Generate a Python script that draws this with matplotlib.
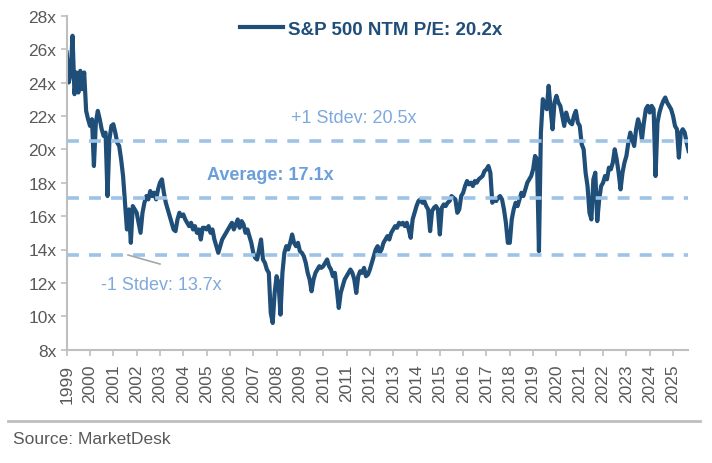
import numpy as np
import matplotlib
matplotlib.use("Agg")
import matplotlib.pyplot as plt
from matplotlib.lines import Line2D

plt.rcParams["font.family"] = ["Liberation Sans", "DejaVu Sans"]

# monthly NTM P/E (x positions as labelled on the chart axis)
start_year = 1999
pe_1999_2004 = [
    25.8, 24.0, 24.5, 26.8, 23.3, 24.6, 23.4, 24.7, 23.6, 24.6, 22.3, 21.8,  # 1999
    21.4, 21.8, 19.0, 21.6, 22.3, 21.8, 21.2, 20.8, 21.0, 17.2, 20.6, 21.4,  # 2000
    21.5, 21.0, 20.4, 20.2, 19.4, 18.4, 16.8, 15.2, 16.4, 14.4, 16.6, 16.4,  # 2001
    16.2, 15.6, 15.0, 16.2, 16.8, 17.2, 17.0, 17.5, 17.2, 17.4, 17.0, 17.6,  # 2002
    18.0, 18.2, 17.4, 16.8, 16.4, 16.0, 15.6, 15.2, 15.1, 15.8, 16.2, 16.0,  # 2003
    16.1, 15.8, 15.6, 15.4, 15.6, 15.2, 15.4, 15.0, 15.2, 14.6, 15.3, 15.3,  # 2004
]
pe_2005_2011 = [
    15.2, 15.4, 15.0, 15.2, 14.6, 14.2, 13.8, 14.2, 14.6, 14.8, 15.0, 15.2,  # 2005
    15.4, 15.6, 15.2, 15.5, 15.8, 15.3, 15.7, 15.5, 15.0, 15.2, 14.8, 14.4,  # 2006
    13.8, 13.5, 13.4, 14.0, 14.6, 13.4, 13.2, 12.8, 12.6, 10.2, 9.6, 11.4,   # 2007
    12.4, 12.0, 10.1, 12.6, 13.8, 14.2, 14.0, 14.4, 14.9, 14.4, 14.2, 14.4,  # 2008
    13.9, 13.8, 13.6, 13.2, 12.6, 12.2, 11.5, 12.2, 12.6, 12.8, 13.0, 12.9,  # 2009
    13.0, 13.2, 13.4, 13.0, 12.8, 12.4, 12.6, 11.6, 10.5, 11.4, 11.8, 12.2,  # 2010
    12.4, 12.6, 12.8, 12.6, 12.2, 11.4, 12.4, 12.7, 12.6, 12.9, 12.4, 12.5,  # 2011
]
pe_2012_2018 = [
    12.8, 13.2, 13.6, 14.0, 14.2, 13.8, 14.0, 14.4, 14.6, 14.8, 14.6, 15.0,  # 2012
    15.2, 15.4, 15.3, 15.6, 15.5, 15.6, 15.4, 15.6, 15.2, 14.7, 15.8, 16.2,  # 2013
    16.6, 16.9, 17.0, 16.8, 16.9, 16.6, 16.4, 15.1, 16.3, 16.5, 16.6, 16.4,  # 2014
    14.9, 16.5, 16.7, 16.6, 16.8, 16.9, 17.2, 17.1, 17.0, 16.2, 16.4, 17.2,  # 2015
    17.4, 17.8, 18.1, 17.9, 18.0, 17.8, 18.1, 18.0, 18.2, 18.3, 18.4, 18.7,  # 2016
    18.8, 19.0, 18.6, 16.8, 17.0, 16.9, 17.1, 17.2, 17.0, 16.4, 15.6, 14.4,  # 2017
    14.4, 15.8, 16.4, 16.8, 16.6, 17.0, 17.4, 17.2, 17.6, 18.0, 18.2, 18.4,  # 2018
]
pe_2019_2025 = [
    18.8, 19.6, 19.4, 13.9, 21.0, 23.0, 22.6, 22.4, 23.8, 22.4, 21.2, 22.8,  # 2019
    23.2, 22.8, 22.6, 22.0, 21.4, 22.2, 21.8, 21.6, 21.5, 22.0, 22.3, 21.6,  # 2020
    21.4, 20.3, 20.0, 18.6, 17.8, 16.2, 15.8, 18.2, 18.6, 15.7, 17.0, 17.8,  # 2021
    18.0, 18.4, 18.2, 18.9, 18.8, 19.2, 20.0, 19.4, 18.6, 17.6, 18.6, 19.2,  # 2022
    19.6, 20.4, 21.0, 20.6, 20.2, 21.2, 21.8, 21.4, 20.6, 21.6, 22.4, 22.6,  # 2023
    22.2, 22.6, 22.4, 18.4, 21.6, 22.2, 22.6, 22.9, 23.1, 22.8, 22.6, 22.4,  # 2024
    22.0, 21.4, 21.2, 19.5, 21.0, 21.2, 21.0, 20.4, 19.9,                    # 2025
]
pe = pe_1999_2004 + pe_2005_2011 + pe_2012_2018 + pe_2019_2025
x = start_year + np.arange(len(pe)) / 12.0

average = 17.1
plus_1sd = 20.5
minus_1sd = 13.7
years = list(range(1999, 2026))
y_ticks = list(range(8, 29, 2))

dark_blue = "#1f4e79"
light_blue = "#9dc3e6"
label_blue = "#7ea9dc"
grey = "#bfbfbf"
text_grey = "#595959"

fig = plt.figure(figsize=(7.12, 4.64), dpi=100)
ax = fig.add_axes([66.7 / 712, 1 - 350.7 / 464, (687.5 - 66.7) / 712, 334 / 464])

ax.plot(x, pe, color=dark_blue, lw=3.0, solid_joinstyle="round", zorder=2,
        label="S&P 500 NTM P/E: 20.2x")
for level in (plus_1sd, average, minus_1sd):
    ax.axhline(level, color=light_blue, lw=2.6, ls=(0, (3.3, 2.8)), zorder=3)

ax.set_xlim(1999, 2025.62)
ax.set_ylim(8, 28)
ax.set_yticks(y_ticks)
ax.set_yticklabels([f"{v}x" for v in y_ticks])
ax.set_xticks(years)
ax.set_xticklabels([str(y) for y in years], rotation=90)

for side in ("top", "right"):
    ax.spines[side].set_visible(False)
for side in ("left", "bottom"):
    ax.spines[side].set_color(grey)
    ax.spines[side].set_linewidth(1.5)
ax.tick_params(axis="both", direction="out", color=grey, length=4, width=1.2,
               labelcolor=text_grey, labelsize=12.5)
ax.tick_params(axis="x", pad=6)

ax.text(2011.31, 21.93, "+1 Stdev: 20.5x", color=label_blue, fontsize=13,
        ha="center", va="center")
ax.text(2007.71, 18.52, "Average: 17.1x", color="#6b9fd9", fontsize=13,
        fontweight="bold", ha="center", va="center")
ax.text(2003.04, 11.93, "-1 Stdev: 13.7x", color=label_blue, fontsize=13,
        ha="center", va="center")
ax.plot([2001.63, 2003.0], [13.67, 13.13], color="#a6a6a6", lw=1.2, zorder=4)

leg = ax.legend(loc="center", bbox_to_anchor=(0.49, 0.96), frameon=False,
                handlelength=2.3, handletextpad=0.25,
                prop={"weight": "bold", "size": 13.5})
for t in leg.get_texts():
    t.set_color(dark_blue)

fig.add_artist(Line2D([8 / 712, 700 / 712], [1 - 422 / 464, 1 - 422 / 464],
                      color=grey, lw=2))
fig.text(13 / 712, 1 - 440 / 464, "Source: MarketDesk", color=text_grey,
         fontsize=12.5, ha="left", va="center")

fig.savefig("out.png", dpi=100)
